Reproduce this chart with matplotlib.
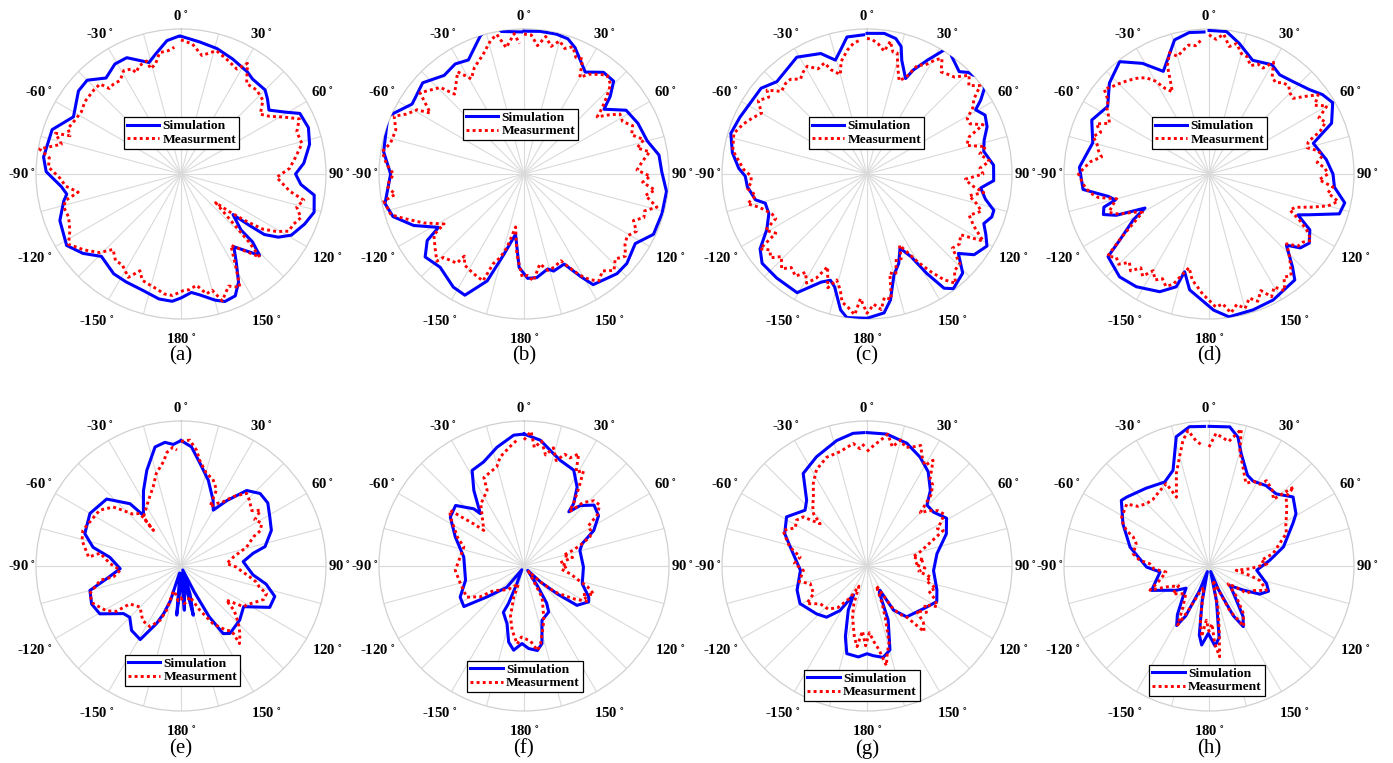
import numpy as np
import matplotlib
matplotlib.use("Agg")
import matplotlib.pyplot as plt
from matplotlib.lines import Line2D

plt.rcParams["mathtext.fontset"] = "stix"

# ---------------- data (angle in degrees, clockwise from top; normalized magnitude) -------------
A_SIM_T = [0, 8, 16, 24, 33, 37, 45, 49, 54, 59, 63, 70, 77, 85, 90, 95, 99, 106, 112, 119,
           123, 126, 127, 128, 133, 133.5, 136, 144, 148, 152, 156, 161, 165, 171, 175, 180, 184, 190, 198, 207,
           214, 224, 231, 238, 249, 257, 260, 264, 271, 277, 289, 298, 309, 315, 322, 329, 335, 344, 348, 354, 359]
A_SIM_R = [.95, .92, .90, .87, .84, .82, .82, .79, .75, .83, .92, .935, .91, .85, .79, .83, .93, .955, .92, .87,
           .80, .71, .58, .455, .566, .68, .78, .62, .72, .845, .92, .93, .90, .845, .82, .855, .88, .875, .845, .835,
           .83, .79, .87, .93, .895, .83, .80, .83, .93, .955, .94, .84, .91, .915, .84, .885, .885, .80, .845, .925, .95]
A_MEAS_T = [0, 5, 10, 16, 22, 28, 31, 36, 42, 48, 53, 57, 61, 65, 70, 76, 82, 87, 92, 99,
            102, 106, 110, 114, 118, 121, 124, 126, 128, 129.6, 135, 136.5, 145, 149.6, 152.5, 157, 162, 165, 168, 172,
            176, 179, 184, 188, 192, 197, 200, 203, 207, 213, 217, 222, 226, 232, 238, 243, 249, 254, 257, 260,
            264, 268, 273, 277, 280, 284, 288, 289, 292, 297, 302, 307, 314, 318, 320, 323, 327, 331, 335, 336,
            339, 343, 344, 347, 350, 354, 357]
A_MEAS_R = [.925, .90, .83, .885, .85, .82, .89, .77, .78, .76, .685, .73, .81, .90, .85, .86, .795, .75, .66, .76,
            .865, .83, .88, .85, .84, .77, .68, .55, .42, .31, .66, .79, .60, .75, .88, .84, .92, .83, .845, .775,
            .80, .805, .84, .835, .81, .79, .78, .725, .80, .745, .75, .70, .78, .85, .915, .86, .83, .84, .82, .72,
            .80, .835, .915, .915, .99, .85, .91, .81, .84, .82, .81, .83, .835, .835, .77, .775, .77, .815, .80, .765,
            .80, .815, .755, .78, .85, .855, .875]

B_SIM_T = [0, 6.5, 13, 18, 22, 26, 31, 38, 44, 48, 51, 58, 66, 75, 82, 89, 97, 106, 115, 122,
           131, 137, 148, 151, 156, 163, 166, 173, 178, 183, 188, 194, 199, 206, 212, 222, 230, 235.5, 238, 245,
           252, 258, 270, 279, 293, 302, 312, 321, 328, 334, 342.5, 347, 349, 351, 359]
B_SIM_R = [.985, .99, .99, .98, .94, .88, .82, .89, .89, .80, .71, .83, .86, .88, .94, .95, .99, .99, .985, .905,
           .94, .94, .90, .81, .68, .70, .675, .72, .72, .645, .42, .57, .78, .93, .92, .865, .89, .81, .695, .84,
           .95, .98, .92, .98, 1.02, .91, .94, .875, .895, .875, 1.0, 1.05, 1.05, .995, .98]
B_MEAS_T = [0, 3, 6, 9, 12, 15, 18, 21, 24, 27, 30, 33, 37, 40, 44, 47, 50, 52, 55, 58,
            62, 66, 70, 74, 77, 80, 84, 88, 91, 94, 97, 100, 104, 107, 110, 113, 117, 121, 125, 129,
            133, 137, 141, 145, 148, 151, 154, 157, 162, 166, 170, 175, 178, 181, 185, 189, 193, 196, 199, 201,
            207, 213, 216, 217, 224, 225, 230, 236, 238, 244, 250, 253, 259, 261, 265, 270, 274, 279, 283, 289,
            294, 297, 301, 303, 308, 316, 319, 327, 331, 335, 341, 346, 349, 352, 356, 358]
B_MEAS_R = [.965, .96, .89, .96, .90, .95, .91, .94, .88, .89, .77, .82, .86, .89, .86, .78, .70, .64, .71, .78,
            .77, .82, .79, .86, .80, .88, .82, .78, .87, .82, .91, .85, .945, .87, .88, .82, .87, .83, .85, .90,
            .86, .91, .86, .90, .86, .80, .72, .65, .675, .685, .63, .74, .70, .71, .56, .37, .52, .60, .655, .79,
            .77, .75, .70, .77, .80, .85, .80, .75, .65, .77, .89, .96, .985, .90, .95, .90, .95, .99, .945, .935,
            .98, .91, .86, .77, .91, .83, .73, .84, .75, .81, .87, .95, .98, .88, .97, .90]

C_SIM_T = [0, 7, 12, 15, 17, 22, 24, 28, 31.7, 33.5, 35.7, 38.6, 42, 45, 47, 50, 54, 57, 59.4, 63.5,
           68.5, 74, 79, 86, 93, 97, 102, 106, 109, 113, 117, 121, 127, 131, 136, 143, 146, 149, 152, 156,
           160.5, 165, 169.5, 173, 180, 188, 191, 196, 199, 203, 210.5, 221, 229.6, 235, 241, 248, 254, 257, 264, 269,
           272.5, 279, 286.6, 294, 309, 315.7, 329, 339, 344.5, 349, 351.7, 358.6]
C_SIM_R = [.97, .977, .955, .91, .82, .71, .785, .89, 1.0, 1.04, 1.0, .975, .95, .99, 1.0, 1.05, 1.0, .935, .87, .91,
           .89, .84, .82, .875, .875, .79, .835, .91, .91, .875, .92, .965, .925, .835, .95, .99, .95, .80, .645, .56,
           .655, .72, .885, .965, .995, 1.0, .955, .81, .775, .81, .95, .95, .95, .90, .79, .73, .73, .79, .83, .84,
           .885, .94, .98, .96, .94, .89, .94, .89, .815, .895, .955, .96]
C_MEAS_T = [0, 2, 5, 8, 10, 12, 14, 16, 19, 22, 25, 28, 31, 33, 36, 39, 42, 46, 49, 52,
            55, 58, 61, 64, 67, 70, 74, 77, 80, 84, 87, 90, 93, 96, 99, 102, 105, 108, 112, 116,
            120, 123, 127, 131, 134, 138, 141, 144, 147, 150, 153, 155.5, 158, 161, 164, 167, 169, 172, 174, 177,
            180, 183, 185, 188, 191, 193, 196, 199, 203, 206, 209, 212, 215, 219, 222, 226, 229, 232, 235, 237,
            241, 244, 247, 250, 253, 256, 259, 263, 266, 269, 272, 275, 280, 284, 287, 292, 296, 300, 304, 308,
            310, 314, 318, 321, 325, 328, 331, 335, 339, 341, 345, 347, 351, 354, 357]
C_MEAS_R = [.935, .93, .90, .855, .93, .86, .86, .77, .68, .72, .83, .85, .92, .95, .87, .885, .90, .98, .93, .99,
            .90, .86, .79, .79, .87, .75, .715, .84, .79, .85, .78, .80, .68, .72, .815, .72, .78, .83, .76, .82,
            .925, .77, .80, .78, .89, .90, .97, .90, .80, .70, .60, .54, .63, .62, .72, .70, .88, .86, .94, .90,
            .96, .86, .975, .93, .90, .82, .76, .83, .695, .80, .86, .80, .86, .83, .88, .82, .88, .85, .90, .75,
            .80, .70, .71, .74, .78, .85, .78, .83, .80, .80, .85, .88, .94, .95, .96, .92, .88, .84, .905, .86,
            .90, .82, .84, .84, .80, .83, .85, .80, .82, .76, .71, .795, .865, .905, .925]

D_SIM_T = [0, 7, 13, 21, 30, 35.5, 42, 50, 55, 60, 67.5, 73.6, 83, 90, 96, 102, 107, 112, 114.7, 119,
           124.6, 129, 132.6, 138, 141, 153, 162, 172, 178, 189.5, 194, 196.2, 202.7, 212.8, 221, 230.7, 233.5, 238.8, 242, 246,
           249, 252.5, 254.5, 257.4, 263, 273, 285, 294.7, 303.7, 312.4, 321.5, 329, 336, 345.6, 352, 358]
D_SIM_R = [.99, .99, .925, .84, .87, .84, .86, .905, .955, .985, .915, .75, .815, .855, .87, .957, .94, .75, .675, .795,
           .84, .81, .725, .86, .94, .975, .985, .995, .94, .81, .695, .81, .88, .925, .94, .90, .765, .61, .50, .70,
           .78, .76, .67, .71, .875, .895, .83, .89, .84, .93, .99, .89, .775, .955, .985, .98]
D_MEAS_T = [0, 3, 6, 9, 12, 15, 18, 21, 24, 27, 30, 33, 36, 39, 42, 45, 48, 51, 54, 57,
            60, 63, 66, 69, 72, 75, 78, 81, 84, 87, 90, 93, 96, 99, 102, 105, 108, 111, 114, 117,
            120, 123, 126, 129, 132, 135, 138, 141, 144, 147, 150, 153, 156, 159, 162, 165, 168, 171, 174, 177,
            180, 183, 186, 189, 192, 195, 198, 201, 204, 207, 210, 213, 216, 219, 222, 225, 228, 231, 234, 237,
            240, 243, 246, 249, 252, 255, 258, 261, 264, 267, 270, 273, 276, 279, 282, 285, 288, 291, 294, 297,
            300, 303, 306, 309, 312, 315, 318, 321, 324, 327, 330, 333, 336, 339, 342, 345, 348, 351, 354, 357]
D_MEAS_R = [.96, .93, .97, .89, .92, .86, .85, .80, .83, .82, .89, .80, .78, .81, .82, .79, .78, .85, .93, .87,
            .94, .85, .88, .82, .72, .70, .77, .79, .75, .80, .82, .76, .86, .83, .91, .85, .74, .64, .61, .70,
            .78, .84, .80, .79, .72, .78, .84, .90, .88, .96, .90, .95, .88, .94, .90, .96, .92, .97, .90, .92,
            .87, .83, .78, .74, .66, .72, .80, .83, .79, .82, .77, .84, .80, .86, .82, .88, .86, .90, .75, .62,
            .53, .58, .68, .74, .70, .66, .78, .83, .86, .88, .90, .86, .82, .75, .78, .80, .84, .80, .85, .77,
            .80, .84, .86, .93, .90, .88, .86, .84, .82, .79, .74, .66, .62, .80, .88, .84, .87, .90, .89, .93]

E_SIM_T = [0, 5, 10.5, 17.7, 26, 30, 35, 41, 47.5, 54, 61, 68.5, 77, 80, 86, 97, 102, 108, 115, 123,
           132.6, 144, 148, 151, 153, 156, 162, 166, 170, 173, 175.7, 178, 182, 185, 188, 192, 197, 200, 203, 209,
           217.5, 225, 230.4, 239.5, 247, 255, 260.3, 267.5, 277, 282, 288.6, 300, 312, 320.7, 323.4, 333.5, 340.3, 347.7, 352.6, 356.4, 360]
E_SIM_R = [.865, .825, .72, .62, .505, .445, .55, .69, .74, .74, .70, .67, .595, .505, .43, .50, .60, .68, .675, .515,
           .55, .575, .55, .40, .20, .03, .20, .35, .05, .20, .306, .05, .15, .34, .05, .05, .25, .35, .43, .58,
           .56, .50, .515, .65, .67, .65, .52, .42, .495, .62, .70, .725, .69, .555, .435, .58, .70, .84, .86, .84, .865]
E_MEAS_T = [0, 4, 7.7, 10, 15.5, 20, 25, 26, 30, 32, 37, 42, 46, 52, 55, 58, 62, 66, 68, 74,
            80, 87, 91, 94, 99, 102, 105, 108, 112, 117, 120, 123, 127, 130, 135, 139, 143, 142, 145, 151,
            157, 164, 170, 175, 180, 185, 190, 197, 198, 201, 207, 215, 225, 233.5, 235, 239, 247, 253, 260, 261,
            266, 272, 279, 275.5, 284.5, 290, 299, 304.5, 311, 314, 317, 322, 322.2, 322.5, 333.6, 340.7, 345, 350.5, 353, 356, 358]
E_MEAS_R = [.86, .87, .805, .74, .66, .64, .58, .455, .50, .51, .60, .675, .655, .62, .67, .60, .63, .60, .54, .47,
            .37, .315, .38, .41, .48, .53, .56, .62, .615, .56, .53, .515, .39, .48, .56, .62, .67, .57, .54, .455,
            .33, .22, .25, .26, .22, .24, .20, .18, .32, .40, .47, .46, .40, .44, .545, .60, .66, .66, .565, .47,
            .42, .49, .565, .64, .705, .72, .69, .68, .62, .55, .49, .46, .31, .425, .505, .58, .66, .73, .79, .82, .80]

F_SIM_T = [0, 7.4, 14.8, 19, 27.4, 34, 38.5, 39.6, 43, 49, 56, 63, 69, 74.5, 91, 107, 115.6, 119, 126.6, 130,
           134, 140, 146, 148.6, 151.8, 161.7, 167, 171, 176.8, 181.5, 187, 191.4, 196.4, 204, 202.5, 202, 210, 219, 230, 236,
           244, 256.3, 278.5, 293, 303.6, 311.5, 318.7, 320.2, 326.4, 331.5, 338.8, 347.2, 355.5, 360]
F_SIM_R = [.91, .875, .80, .77, .745, .655, .55, .485, .57, .64, .62, .54, .43, .40, .41, .42, .495, .51, .455, .30,
           .16, .04, .17, .30, .36, .395, .55, .59, .57, .535, .585, .535, .415, .35, .28, .13, .03, .19, .33, .50,
           .49, .415, .42, .515, .61, .63, .525, .47, .625, .75, .77, .84, .905, .91]
F_MEAS_T = [0, 3, 5, 8, 11, 14, 17, 20, 23, 26, 29, 32, 35, 38, 40, 43, 47, 51, 55, 58,
            62, 66, 69, 72, 75, 80, 85, 90, 95, 100, 104, 108, 112, 116, 119, 123, 126, 130, 134, 140,
            150, 159, 162, 168, 171, 175, 182, 185, 190.5, 195, 198.4, 197, 215, 231, 235, 241.5, 254.5, 266.4, 287.5, 293.4,
            303.6, 307, 308, 310, 311.5, 325, 334, 335.6, 344.7, 347.7, 353.4, 356.8]
F_MEAS_R = [.87, .93, .82, .87, .78, .84, .76, .82, .81, .86, .74, .775, .66, .56, .49, .60, .66, .67, .62, .525,
            .52, .50, .43, .36, .28, .34, .25, .30, .26, .33, .38, .46, .52, .45, .505, .42, .35, .28, .16, .05,
            .25, .38, .43, .55, .59, .52, .49, .54, .45, .36, .225, .13, .20, .27, .37, .45, .455, .475, .435, .50,
            .61, .64, .555, .45, .37, .52, .58, .67, .71, .77, .83, .87]

G_SIM_T = [0, 8.5, 18, 26, 33, 40, 44.5, 51, 59, 68, 80, 94, 109, 117, 124.5, 142, 149, 152, 155, 158.6,
           164.7, 170, 176, 180, 185.4, 193, 197, 203, 205, 211.3, 218.3, 226.6, 240.7, 251, 266.3, 281.7, 291.5, 301.4, 312, 317.4,
           325.4, 335.2, 346.4, 354, 358.5]
G_SIM_R = [.92, .92, .89, .835, .775, .68, .59, .59, .64, .59, .49, .46, .51, .54, .50, .445, .355, .19, .20, .40,
           .60, .64, .62, .605, .63, .62, .51, .33, .22, .36, .45, .48, .53, .51, .46, .53, .61, .65, .575, .615,
           .775, .83, .89, .92, .92]
G_MEAS_T = [0, 3, 6, 9, 12, 15, 18, 21, 24, 27, 30, 32, 36, 39, 42, 45, 48, 52, 56, 59,
            62, 65, 68, 71, 75, 79, 84, 88, 92, 96, 100, 104, 108, 112, 116, 120, 124, 128, 132, 135,
            139, 142, 146, 149, 152, 155, 158, 161, 164, 167, 169, 172, 175, 178, 181, 184, 187, 190, 193, 196,
            199, 202, 208, 215, 222, 231, 238, 242.7, 252.8, 257, 266, 272, 277.7, 284, 290, 293, 298, 303, 307.6, 312,
            314.3, 318, 322, 327, 332.3, 339.7, 346.7, 353.6, 356.6, 359]
G_MEAS_R = [.79, .83, .87, .92, .84, .90, .86, .88, .91, .84, .80, .86, .74, .72, .66, .52, .57, .62, .64, .60,
            .55, .58, .50, .44, .38, .32, .40, .33, .40, .36, .45, .42, .50, .46, .52, .56, .48, .52, .46, .55,
            .60, .45, .40, .33, .20, .15, .28, .40, .55, .62, .70, .58, .52, .46, .55, .45, .56, .50, .42, .36,
            .28, .15, .25, .35, .40, .415, .49, .415, .41, .48, .44, .50, .465, .55, .60, .63, .56, .58, .555, .435,
            .515, .56, .60, .68, .75, .80, .81, .85, .81, .845]

H_SIM_T = [0, 8.5, 12.7, 16, 23, 27.4, 35.4, 43, 50.6, 59, 63, 75.6, 84.7, 95, 107, 113, 119, 125, 133, 140,
           146, 150.5, 154, 158, 163, 168, 172, 175.7, 180.6, 185.3, 188, 191, 196, 201, 205, 208.5, 213, 220, 226, 233.3,
           247, 263, 269, 283.5, 296, 306.8, 310, 321, 332.2, 339.4, 345.8, 352, 358.2]
H_SIM_R = [.963, .97, .91, .806, .68, .66, .68, .68, .75, .70, .65, .53, .42, .33, .415, .446, .40, .29, .20, .28,
           .42, .48, .38, .18, .04, .25, .50, .553, .465, .547, .48, .25, .04, .18, .38, .467, .40, .28, .22, .28,
           .43, .34, .43, .56, .66, .755, .74, .69, .655, .705, .92, .97, .963]
H_MEAS_T = [0, 3, 6, 9, 12, 13.3, 15, 19, 24, 28, 32, 34, 40, 44, 47, 48, 52, 56, 62, 67,
            72.5, 79, 84, 88, 94, 99, 103, 106, 110, 113, 119, 126, 128, 133, 138, 144, 150, 155, 160, 165,
            168, 171, 173.3, 175.8, 177, 180, 182.8, 186, 189, 194, 200, 205, 208, 212.4, 220, 232.5, 237, 244, 247.7, 249.4,
            253.8, 262, 267, 272.3, 274.7, 279.2, 287, 291, 293.3, 296.2, 299.2, 307, 310, 314.8, 319.6, 326.9, 332.6, 334.7, 340.5, 344.9,
            348.3, 351.2, 354, 357]
H_MEAS_R = [.82, .915, .89, .87, .935, .97, .82, .72, .625, .66, .665, .71, .68, .64, .80, .715, .68, .645, .60, .58,
            .51, .45, .36, .40, .28, .19, .29, .365, .40, .43, .35, .32, .24, .18, .28, .40, .48, .34, .15, .10,
            .30, .45, .63, .537, .40, .45, .375, .49, .38, .15, .20, .34, .46, .335, .25, .315, .25, .33, .44, .41,
            .355, .30, .38, .41, .48, .53, .525, .56, .62, .66, .69, .71, .64, .61, .60, .62, .64, .525, .675, .78,
            .885, .945, .87, .83]

PANEL_LABELS = ["(a)", "(b)", "(c)", "(d)", "(e)", "(f)", "(g)", "(h)"]
SERIES_NAMES = ["Simulation", "Measurment"]
THETA_LABEL_DEG = [0, 30, 60, 90, 120, 150, 180, 210, 240, 270, 300, 330]
THETA_LABEL_TXT = ["0", "30", "60", "90", "120", "150", "180", "-150", "-120", "-90", "-60", "-30"]

panels = [
    (A_SIM_T, A_SIM_R, A_MEAS_T, A_MEAS_R),
    (B_SIM_T, B_SIM_R, B_MEAS_T, B_MEAS_R),
    (C_SIM_T, C_SIM_R, C_MEAS_T, C_MEAS_R),
    (D_SIM_T, D_SIM_R, D_MEAS_T, D_MEAS_R),
    (E_SIM_T, E_SIM_R, E_MEAS_T, E_MEAS_R),
    (F_SIM_T, F_SIM_R, F_MEAS_T, F_MEAS_R),
    (G_SIM_T, G_SIM_R, G_MEAS_T, G_MEAS_R),
    (H_SIM_T, H_SIM_R, H_MEAS_T, H_MEAS_R),
]

# ---------------- layout ----------------
W, H = 1393, 763
fig = plt.figure(figsize=(W / 100, H / 100), dpi=100)
fig.patch.set_facecolor("white")

centers = [(181, 174), (524, 174), (867, 174), (1209, 174),
           (181, 566), (524, 566), (867, 566), (1209, 566)]
legend_centers = [(181.5, 133), (520.5, 124.5), (866.5, 133), (1209.5, 133),
                  (182.5, 670.5), (525, 676.5), (862, 685.5), (1207, 680.5)]
caption_y = [356, 356, 356, 356, 749, 749, 749, 749]
RPX = 145
# label-centre distance from the pole (in units of the outer radius), by label angle
label_dist = {0: 1.09, 30: 1.115, 60: 1.13, 90: 1.095, 120: 1.165, 150: 1.17, 180: 1.135}

SERIF = ["Liberation Serif", "DejaVu Serif"]
SIM_COLOR = "#0000ff"
MEAS_COLOR = "#ff0000"
MEAS_LS = (0, (1.0, 1.1))

for i, (st, sr, mt, mr) in enumerate(panels):
    cx, cy = centers[i]
    ax = fig.add_axes([(cx - RPX) / W, 1 - (cy + RPX) / H, 2 * RPX / W, 2 * RPX / H],
                      projection="polar")
    ax.set_theta_zero_location("N")
    ax.set_theta_direction(-1)
    ax.set_ylim(0, 1)
    ax.set_yticks([])
    ax.set_xticks(np.radians(np.arange(0, 360, 15)))
    ax.set_xticklabels([])
    ax.tick_params(axis="x", length=0)
    ax.xaxis.grid(True, color="#dadada", lw=0.8)
    ax.spines["polar"].set_color("#d0d0d0")
    ax.spines["polar"].set_linewidth(0.9)

    for deg, txt in zip(THETA_LABEL_DEG, THETA_LABEL_TXT):
        key = deg if deg <= 180 else 360 - deg
        ax.text(np.radians(deg), label_dist[key], txt + r"$^{\,\circ}$",
                ha="center", va="center", fontsize=10.6, fontweight="bold",
                family=SERIF, clip_on=False)

    ax.plot(np.radians(st), sr, color=SIM_COLOR, lw=2.2, zorder=3)
    ax.plot(np.radians(mt), mr, color=MEAS_COLOR, lw=2.1, ls=MEAS_LS, zorder=4)

    handles = [Line2D([], [], color=SIM_COLOR, lw=2.2),
               Line2D([], [], color=MEAS_COLOR, lw=2.1, ls=MEAS_LS)]
    lx, ly = legend_centers[i]
    leg = ax.legend(handles, SERIES_NAMES, loc="center",
                    bbox_to_anchor=(lx / W, 1 - ly / H), bbox_transform=fig.transFigure,
                    prop={"family": SERIF, "weight": "bold", "size": 9.7},
                    frameon=True, fancybox=False, framealpha=1, edgecolor="black",
                    handlelength=2.4, handletextpad=0.25, borderpad=0.22,
                    labelspacing=0.08, borderaxespad=0)
    leg.get_frame().set_linewidth(0.9)
    leg.set_zorder(10)

    fig.text(cx / W, 1 - caption_y[i] / H, PANEL_LABELS[i], ha="center", va="center",
             fontsize=15, family=SERIF)

fig.savefig("out.png", dpi=100, facecolor="white")
